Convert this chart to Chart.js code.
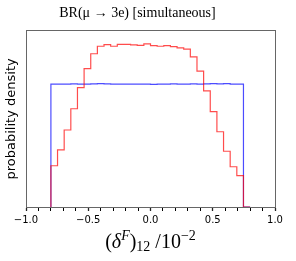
<!DOCTYPE html>
<html>
<head>
<meta charset="utf-8">
<script src="https://cdn.jsdelivr.net/npm/chart.js@4"></script>
<style>
  html, body { margin: 0; padding: 0; background: #fff; }
  #wrap { width: 296px; height: 261px; }
</style>
</head>
<body>
<div id="wrap"><canvas id="chart"></canvas></div>
<script>
// histogram binning: 30 bins between -0.8 and 0.8 (in units of 10^-2)
const binLo = -0.8;
const binHi = 0.8;
const nBins = 30;

// red: BR(mu -> 3e) simultaneous
const redDensity = [
    0.256, 0.336, 0.465, 0.627, 0.800, 0.973, 1.127, 1.248, 1.309, 1.323,
    1.309, 1.325, 1.325, 1.320, 1.317, 1.328, 1.315, 1.309, 1.315, 1.306,
    1.296, 1.285, 1.223, 1.107, 0.946, 0.777, 0.613, 0.454, 0.328, 0.256
];
// blue: flat prior
const blueDensity = [
    1.000, 1.000, 1.001, 1.000, 1.002, 1.000, 1.001, 1.003, 1.005, 1.002,
    1.001, 1.000, 1.000, 1.001, 1.000, 1.001, 0.998, 1.000, 1.000, 1.002,
    1.000, 1.001, 1.003, 1.000, 1.002, 1.004, 1.003, 1.004, 1.000, 1.000
];

// x ticks every 0.1, only the multiples of 0.5 get a label
const xTicks = [-1.0, -0.9, -0.8, -0.7, -0.6, -0.5, -0.4, -0.3, -0.2, -0.1, 0.0,
                0.1, 0.2, 0.3, 0.4, 0.5, 0.6, 0.7, 0.8, 0.9, 1.0];
const xLabelled = [-1.0, -0.5, 0.0, 0.5, 1.0];

// turn bin heights into a stepped outline that starts and ends on zero
function histPoints(vals) {
    const w = (binHi - binLo) / nBins;
    const pts = [{ x: binLo, y: 0 }];
    vals.forEach((v, i) => pts.push({ x: binLo + i * w, y: v }));
    pts.push({ x: binHi, y: 0 });
    return pts;
}

function isMajor(v) {
    return xLabelled.some(m => Math.abs(m - v) < 1e-6);
}

// x axis label with sub/superscripts
const mathLabel = {
    id: 'mathLabel',
    afterDraw(chart) {
        const ctx = chart.ctx;
        const serif = '"Liberation Serif", "DejaVu Serif", serif';
        const parts = [
            { t: '(', f: '20px ' + serif, dy: 0 },
            { t: 'δ', f: 'italic 20px ' + serif, dy: 0 },
            { t: 'F', f: 'italic 14px ' + serif, dy: -8 },
            { t: ')', f: '20px ' + serif, dy: 0 },
            { t: '12', f: '14px ' + serif, dy: 3 },
            { t: ' /10', f: '20px ' + serif, dy: 0 },
            { t: '−2', f: '14px ' + serif, dy: -8 }
        ];
        let total = 0;
        parts.forEach(p => { ctx.font = p.f; p.w = ctx.measureText(p.t).width; total += p.w; });
        const a = chart.chartArea;
        let x = (a.left + a.right) / 2 - total / 2;
        const base = 248;
        ctx.save();
        ctx.fillStyle = '#000';
        ctx.textBaseline = 'alphabetic';
        parts.forEach(p => {
            ctx.font = p.f;
            ctx.fillText(p.t, x, base + p.dy);
            x += p.w;
        });
        ctx.restore();
    }
};

const frame = '#666';

new Chart(document.getElementById('chart'), {
    type: 'line',
    data: {
        datasets: [
            {
                label: 'simultaneous',
                data: histPoints(redDensity),
                borderColor: 'rgba(255, 0, 0, 0.7)',
                borderWidth: 1.2,
                stepped: 'after',
                pointRadius: 0,
                fill: false
            },
            {
                label: 'prior',
                data: histPoints(blueDensity),
                borderColor: 'rgba(0, 0, 255, 0.7)',
                borderWidth: 1.2,
                stepped: 'after',
                pointRadius: 0,
                fill: false
            }
        ]
    },
    options: {
        responsive: true,
        maintainAspectRatio: false,
        animation: false,
        layout: { padding: { left: 0, right: 21, bottom: 32, top: 0 } },
        plugins: {
            legend: { display: false },
            tooltip: { enabled: false },
            title: {
                display: true,
                text: 'BR(μ → 3e) [simultaneous]',
                color: '#000',
                font: { family: '"Liberation Serif", "DejaVu Serif", serif', size: 14, weight: 'normal' },
                padding: { top: 5, bottom: 9 }
            }
        },
        scales: {
            x: {
                type: 'linear',
                min: -1, max: 1,
                afterBuildTicks: (s) => { s.ticks = xTicks.map(v => ({ value: v })); },
                ticks: {
                    color: '#000',
                    font: { family: '"DejaVu Sans"', size: 10 },
                    padding: 3,
                    maxRotation: 0,
                    autoSkip: false,
                    callback: (v) => isMajor(v) ? (v < -1e-6 ? '−' : '') + Math.abs(v).toFixed(1) : ''
                },
                grid: {
                    display: true, drawOnChartArea: false, drawTicks: true, tickLength: 4,
                    color: '#222',
                    tickColor: (c) => (c.tick && isMajor(c.tick.value)) ? '#222' : '#000',
                    tickWidth: (c) => (c.tick && isMajor(c.tick.value)) ? 1.3 : 1
                },
                border: { display: true, color: frame, width: 1 }
            },
            y: {
                min: 0, max: 1.435,
                ticks: { display: false },
                grid: { display: false, drawTicks: false },
                border: { display: true, color: frame, width: 1 },
                title: {
                    display: true,
                    text: 'probability density',
                    color: '#000',
                    font: { family: '"DejaVu Sans"', size: 13 },
                    padding: { top: 4, bottom: 6.4 }
                }
            },
            x2: {
                type: 'linear', position: 'top',
                ticks: { display: false },
                grid: { display: false, drawTicks: false },
                border: { display: true, color: frame, width: 1 }
            },
            y2: {
                type: 'linear', position: 'right',
                ticks: { display: false },
                grid: { display: false, drawTicks: false },
                border: { display: true, color: frame, width: 1 }
            }
        }
    },
    plugins: [mathLabel]
});
</script>
</body>
</html>
